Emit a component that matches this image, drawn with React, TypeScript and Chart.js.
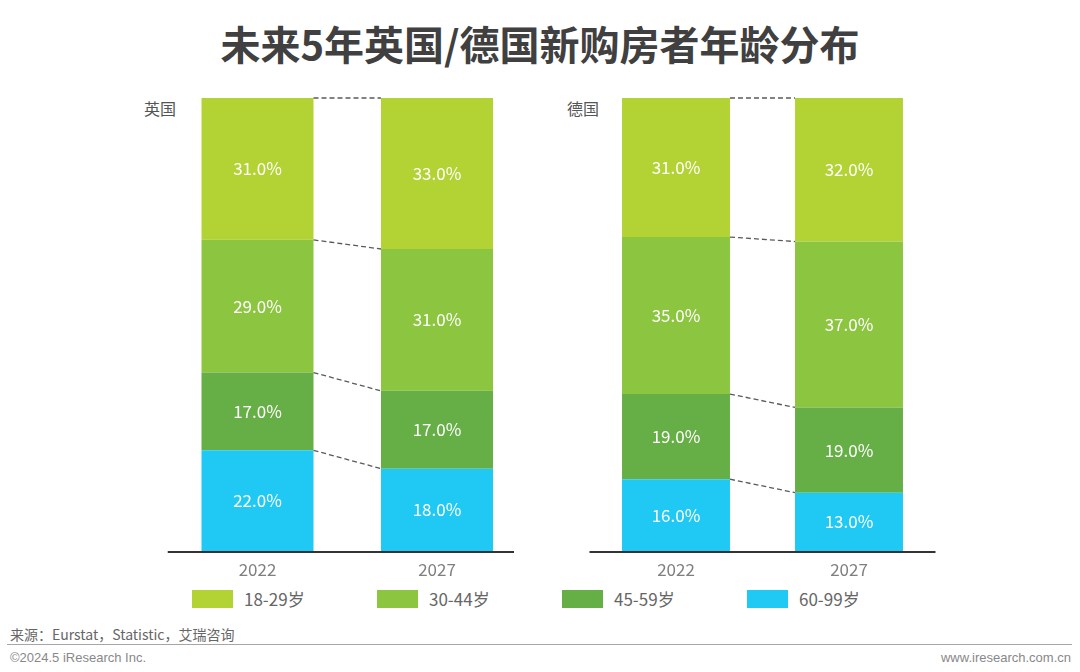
import React, { useEffect, useRef } from 'react';
import { Chart, registerables } from 'chart.js';

Chart.register(...registerables);

// ---- data ----
const years = ['2022', '2027'];
const ageGroups = ['18-29岁', '30-44岁', '45-59岁', '60-99岁'];
const groupColors = ['#B3D335', '#8CC540', '#66AE46', '#20C9F3'];

const ukAge18to29 = [31, 33];
const ukAge30to44 = [29, 31];
const ukAge45to59 = [17, 17];
const ukAge60to99 = [22, 18];

const deAge18to29 = [31, 32];
const deAge30to44 = [35, 37];
const deAge45to59 = [19, 19];
const deAge60to99 = [16, 13];

const countryNames = ['英国', '德国'];

const FONT = '"Noto Sans CJK SC", "Noto Sans", sans-serif';

type ChartProps = {
  series: number[][];
  left: number;
  top: number;
  width: number;
  height: number;
  padding: { left: number; right: number; top: number; bottom: number };
  axisRightInset: number;
  barRatio: number;
};

function StackedChart(props: ChartProps) {
  const ref = useRef<HTMLCanvasElement | null>(null);
  useEffect(() => {
    const canvas = ref.current;
    if (!canvas) return;
    const { series, padding, axisRightInset, barRatio } = props;
    const totals = years.map((_, i) => series.reduce((s, arr) => s + arr[i], 0));
    const maxTotal = Math.max(...totals);
    // stack bottom-up: last age group at bottom
    const order = [3, 2, 1, 0];
    const datasets = order.map((g) => ({
      label: ageGroups[g],
      data: series[g],
      backgroundColor: groupColors[g],
      borderWidth: 0,
      barPercentage: barRatio,
      categoryPercentage: 1,
    }));

    const overlay = {
      id: 'overlay',
      afterDatasetsDraw(chart: any) {
        const ctx = chart.ctx;
        const area = chart.chartArea;
        const xs = chart.scales.x;
        ctx.save();
        // connectors
        ctx.strokeStyle = '#5a5a5a';
        ctx.lineWidth = 1.3;
        ctx.setLineDash([5, 3]);
        chart.data.datasets.forEach((_: any, di: number) => {
          const meta = chart.getDatasetMeta(di);
          const a = meta.data[0] as any;
          const b = meta.data[1] as any;
          if (!a || !b) return;
          ctx.beginPath();
          ctx.moveTo(a.x + a.width / 2, a.y);
          ctx.lineTo(b.x - b.width / 2, b.y);
          ctx.stroke();
        });
        ctx.setLineDash([]);
        // axis line
        ctx.strokeStyle = '#333333';
        ctx.lineWidth = 2;
        ctx.beginPath();
        ctx.moveTo(area.left, area.bottom + 1);
        ctx.lineTo(area.right - axisRightInset, area.bottom + 1);
        ctx.stroke();
        // value labels
        ctx.fillStyle = '#ffffff';
        ctx.font = `17px ${FONT}`;
        ctx.textAlign = 'center';
        ctx.textBaseline = 'middle';
        chart.data.datasets.forEach((ds: any, di: number) => {
          const meta = chart.getDatasetMeta(di);
          meta.data.forEach((el: any, i: number) => {
            const v = ds.data[i];
            ctx.fillText(`${v.toFixed(1)}%`, el.x, (el.y + el.base) / 2);
          });
        });
        // category labels
        ctx.fillStyle = '#7f7f7f';
        ctx.font = `17px ${FONT}`;
        years.forEach((y, i) => {
          ctx.fillText(y, xs.getPixelForValue(i), area.bottom + 19);
        });
        ctx.restore();
      },
    };

    const chart = new Chart(canvas, {
      type: 'bar',
      data: { labels: years, datasets },
      options: {
        animation: false,
        responsive: false,
        maintainAspectRatio: false,
        layout: { padding },
        plugins: { legend: { display: false }, tooltip: { enabled: false } },
        scales: {
          x: { stacked: true, display: false },
          y: { stacked: true, display: false, min: 0, max: maxTotal },
        },
      },
      plugins: [overlay],
    } as any);
    return () => chart.destroy();
  }, []);
  return (
    <canvas
      ref={ref}
      width={props.width}
      height={props.height}
      style={{ position: 'absolute', left: props.left, top: props.top, width: props.width, height: props.height }}
    />
  );
}

export default function App() {
  const ukSeries = [ukAge18to29, ukAge30to44, ukAge45to59, ukAge60to99];
  const deSeries = [deAge18to29, deAge30to44, deAge45to59, deAge60to99];
  return (
    <div
      style={{
        position: 'absolute',
        left: 0,
        top: 0,
        width: 1080,
        height: 672,
        background: '#ffffff',
        overflow: 'hidden',
        fontFamily: FONT,
      }}
    >
      <div
        style={{
          position: 'absolute',
          left: 0,
          top: 19,
          width: 1080,
          textAlign: 'center',
          fontSize: 40,
          lineHeight: '48px',
          fontWeight: 700,
          color: '#404040',
        }}
      >
        未来5年英国/德国新购房者年龄分布
      </div>

      <div style={{ position: 'absolute', left: 144, top: 97, fontSize: 16, lineHeight: '22px', color: '#555' }}>
        {countryNames[0]}
      </div>
      <div style={{ position: 'absolute', left: 567, top: 97, fontSize: 16, lineHeight: '22px', color: '#555' }}>
        {countryNames[1]}
      </div>

      <StackedChart
        series={ukSeries}
        left={130}
        top={80}
        width={420}
        height={500}
        padding={{ left: 37.75, right: 23.25, top: 18, bottom: 29 }}
        axisRightInset={12.75}
        barRatio={0.624}
      />
      <StackedChart
        series={deSeries}
        left={560}
        top={80}
        width={400}
        height={500}
        padding={{ left: 29.5, right: 24.5, top: 18, bottom: 29 }}
        axisRightInset={0}
        barRatio={0.624}
      />

      <div style={{ position: 'absolute', left: 192, top: 587, display: 'flex' }}>
        {ageGroups.map((g, i) => (
          <div key={g} style={{ width: 185, display: 'flex', alignItems: 'center', height: 24 }}>
            <div style={{ width: 41, height: 18, background: groupColors[i] }} />
            <div style={{ marginLeft: 11, fontSize: 17, color: '#666', lineHeight: '24px' }}>{g}</div>
          </div>
        ))}
      </div>

      <div style={{ position: 'absolute', left: 10, top: 624, fontSize: 14, lineHeight: '20px', color: '#666' }}>
        来源：Eurstat，Statistic，艾瑞咨询
      </div>
      <div style={{ position: 'absolute', left: 7, top: 644, width: 1065, height: 1, background: '#a6a6a6' }} />
      <div
        style={{
          position: 'absolute',
          left: 10,
          top: 649,
          fontSize: 13,
          lineHeight: '18px',
          color: '#888',
          fontFamily: '"Liberation Sans", Arial, sans-serif',
        }}
      >
        ©2024.5 iResearch Inc.
      </div>
      <div
        style={{
          position: 'absolute',
          right: 9,
          top: 649,
          fontSize: 13,
          lineHeight: '18px',
          color: '#888',
          fontFamily: '"Liberation Sans", Arial, sans-serif',
        }}
      >
        www.iresearch.com.cn
      </div>
    </div>
  );
}
